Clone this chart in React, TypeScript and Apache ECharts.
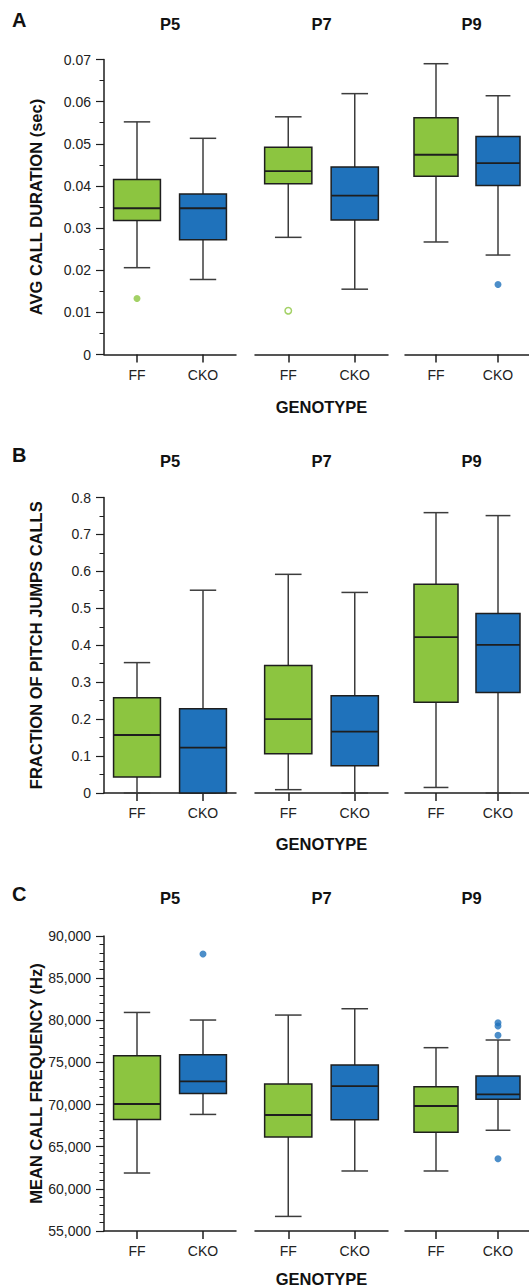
import React, { useEffect, useRef } from "react";
import * as echarts from "echarts";

// ---------- data ----------
const genotypes = ["FF", "CKO"];
const stages = ["P5", "P7", "P9"];
const panelLetters = ["A", "B", "C"];

// [min, Q1, median, Q3, max] per stage (P5, P7, P9)
const durationFF = [
  [0.0206, 0.0318, 0.0347, 0.0415, 0.0552],
  [0.0278, 0.0405, 0.0435, 0.0492, 0.0564],
  [0.0267, 0.0423, 0.0474, 0.0562, 0.069],
];
const durationCKO = [
  [0.0178, 0.0272, 0.0347, 0.0381, 0.0513],
  [0.0155, 0.0319, 0.0377, 0.0445, 0.0619],
  [0.0236, 0.0401, 0.0454, 0.0517, 0.0614],
];
// [stageIndex, genotypeIndex, value]
const durationOutliers = [
  [0, 0, 0.0133],
  [2, 1, 0.0166],
];
const durationOpenOutliers = [[1, 0, 0.0104]];

const pitchFF = [
  [0, 0.043, 0.157, 0.258, 0.353],
  [0.009, 0.106, 0.2, 0.345, 0.592],
  [0.015, 0.246, 0.422, 0.565, 0.759],
];
const pitchCKO = [
  [0, 0, 0.123, 0.228, 0.549],
  [0, 0.074, 0.166, 0.263, 0.543],
  [0, 0.272, 0.401, 0.486, 0.751],
];
const pitchOutliers: number[][] = [];
const pitchOpenOutliers: number[][] = [];

const freqFF = [
  [61880, 68240, 70065, 75795, 80930],
  [56730, 66150, 68760, 72440, 80620],
  [62120, 66710, 69830, 72120, 76750],
];
const freqCKO = [
  [68830, 71320, 72750, 75910, 80030],
  [62120, 68200, 72200, 74690, 81370],
  [66950, 70630, 71220, 73390, 77660],
];
const freqOutliers = [
  [0, 1, 87860],
  [2, 1, 79710],
  [2, 1, 79320],
  [2, 1, 78220],
  [2, 1, 63580],
];
const freqOpenOutliers: number[][] = [];

const yNames = [
  "AVG CALL DURATION (sec)",
  "FRACTION OF PITCH JUMPS CALLS",
  "MEAN CALL FREQUENCY (Hz)",
];
const yMins = [0, 0, 55000];
const yMaxs = [0.07, 0.8, 90000];
const yIntervals = [0.01, 0.1, 5000];
const yMinorSplits = [2, 2, 5];

// ---------- style ----------
const GREEN = "#8cc540";
const BLUE = "#1f72bb";
const DARK = "#1e1e1e";
const WHISKER = "#3c3c3c";
const FONT = "'Liberation Sans', Arial, Helvetica, sans-serif";

const gridLefts = [104, 255, 405];
const gridWidths = [132, 133, 133];
const gridTops = [59.5, 497.5, 936];
const gridHeights = [295, 295.5, 295];
const letterY = [20, 455, 894];
const stageTitleY = [24, 461, 898];
const genotypeY = [407, 844, 1279];

function buildOption() {
  const grids: any[] = [];
  const xAxes: any[] = [];
  const yAxes: any[] = [];
  const series: any[] = [];
  const graphics: any[] = [];

  const allFF = [durationFF, pitchFF, freqFF];
  const allCKO = [durationCKO, pitchCKO, freqCKO];
  const allOut = [durationOutliers, pitchOutliers, freqOutliers];
  const allOpen = [durationOpenOutliers, pitchOpenOutliers, freqOpenOutliers];

  for (let p = 0; p < 3; p++) {
    graphics.push({
      type: "text",
      x: 12,
      y: letterY[p],
      style: {
        text: panelLetters[p],
        font: `bold 20px ${FONT}`,
        fill: "#111",
        textVerticalAlign: "middle",
        verticalAlign: "middle",
      },
    });
    graphics.push({
      type: "text",
      x: gridLefts[1] + gridWidths[1] / 2,
      y: genotypeY[p],
      style: {
        text: "GENOTYPE",
        font: `bold 16.5px ${FONT}`,
        fill: "#111",
        textAlign: "center",
        align: "center",
        textVerticalAlign: "middle",
        verticalAlign: "middle",
      },
    });

    for (let s = 0; s < 3; s++) {
      const gi = p * 3 + s;
      grids.push({
        left: gridLefts[s],
        top: gridTops[p],
        width: gridWidths[s],
        height: gridHeights[p],
        containLabel: false,
      });
      graphics.push({
        type: "text",
        x: gridLefts[s] + gridWidths[s] / 2,
        y: stageTitleY[p],
        style: {
          text: stages[s],
          font: `bold 16.5px ${FONT}`,
          fill: "#111",
          textAlign: "center",
          align: "center",
          textVerticalAlign: "middle",
          verticalAlign: "middle",
        },
      });
      xAxes.push({
        type: "category",
        gridIndex: gi,
        data: genotypes,
        boundaryGap: true,
        axisLine: { show: true, lineStyle: { color: DARK, width: 1.5 } },
        axisTick: {
          show: true,
          alignWithLabel: true,
          length: 8,
          lineStyle: { color: DARK, width: 1.5 },
        },
        axisLabel: {
          fontSize: 14,
          color: "#222",
          fontFamily: FONT,
          margin: 13,
        },
        splitLine: { show: false },
      });
      const showY = s === 0;
      yAxes.push({
        type: "value",
        gridIndex: gi,
        min: yMins[p],
        max: yMaxs[p],
        interval: yIntervals[p],
        show: showY,
        name: showY ? yNames[p] : "",
        nameLocation: "middle",
        nameGap: 60,
        nameRotate: 90,
        nameTextStyle: {
          fontSize: 16.5,
          fontWeight: "bold",
          color: "#111",
          fontFamily: FONT,
        },
        axisLine: { show: true, lineStyle: { color: DARK, width: 1.5 } },
        axisTick: { show: true, length: 8, lineStyle: { color: DARK, width: 1.2 } },
        minorTick: {
          show: true,
          splitNumber: yMinorSplits[p],
          length: 4.5,
          lineStyle: { color: DARK, width: 1 },
        },
        axisLabel: {
          fontSize: 14,
          color: "#222",
          fontFamily: FONT,
          margin: 13,
          formatter: (v: number) =>
            p === 2 ? v.toLocaleString("en-US") : String(+v.toFixed(3)),
        },
        splitLine: { show: false },
        minorSplitLine: { show: false },
      });

      const boxData = [
        [0, ...allFF[p][s]],
        [1, ...allCKO[p][s]],
      ];
      series.push({
        type: "custom",
        xAxisIndex: gi,
        yAxisIndex: gi,
        data: boxData,
        encode: { x: 0, y: [1, 2, 3, 4, 5] },
        clip: false,
        renderItem: (params: any, api: any) => {
          const g = api.value(0);
          const lo = api.coord([g, api.value(1)]);
          const q1 = api.coord([g, api.value(2)]);
          const med = api.coord([g, api.value(3)]);
          const q3 = api.coord([g, api.value(4)]);
          const hi = api.coord([g, api.value(5)]);
          const band = api.size([1, 0])[0];
          const bw = band * 0.71;
          const cw = band * 0.4;
          const cx = lo[0];
          const fill = g === 0 ? GREEN : BLUE;
          const wl = { stroke: WHISKER, lineWidth: 1.5 };
          return {
            type: "group",
            children: [
              { type: "line", shape: { x1: cx, y1: hi[1], x2: cx, y2: q3[1] }, style: wl },
              { type: "line", shape: { x1: cx, y1: q1[1], x2: cx, y2: lo[1] }, style: wl },
              { type: "line", shape: { x1: cx - cw / 2, y1: hi[1], x2: cx + cw / 2, y2: hi[1] }, style: wl },
              { type: "line", shape: { x1: cx - cw / 2, y1: lo[1], x2: cx + cw / 2, y2: lo[1] }, style: wl },
              {
                type: "rect",
                shape: { x: cx - bw / 2, y: q3[1], width: bw, height: q1[1] - q3[1] },
                style: { fill, stroke: DARK, lineWidth: 1.5 },
              },
              {
                type: "line",
                shape: { x1: cx - bw / 2, y1: med[1], x2: cx + bw / 2, y2: med[1] },
                style: { stroke: DARK, lineWidth: 1.8 },
              },
            ],
          };
        },
      });

      const filled = allOut[p].filter((o) => o[0] === s).map((o) => [o[1], o[2]]);
      if (filled.length) {
        series.push({
          type: "scatter",
          xAxisIndex: gi,
          yAxisIndex: gi,
          symbolSize: 7,
          data: filled.map((d) => ({
            value: d,
            itemStyle: { color: d[0] === 0 ? GREEN : BLUE },
          })),
        });
      }
      const open = allOpen[p].filter((o) => o[0] === s).map((o) => [o[1], o[2]]);
      if (open.length) {
        series.push({
          type: "scatter",
          xAxisIndex: gi,
          yAxisIndex: gi,
          symbolSize: 6.5,
          data: open.map((d) => ({
            value: d,
            itemStyle: {
              color: "#ffffff",
              borderColor: d[0] === 0 ? GREEN : BLUE,
              borderWidth: 1.5,
            },
          })),
        });
      }
    }
  }

  return {
    animation: false,
    backgroundColor: "#ffffff",
    textStyle: { fontFamily: FONT },
    grid: grids,
    xAxis: xAxes,
    yAxis: yAxes,
    series,
    graphic: graphics,
  };
}

export default function App() {
  const ref = useRef<HTMLDivElement>(null);
  useEffect(() => {
    if (!ref.current) return;
    const chart = echarts.init(ref.current, undefined, { renderer: "svg" });
    chart.setOption(buildOption() as any);
    return () => chart.dispose();
  }, []);
  return (
    <div
      ref={ref}
      style={{ position: "absolute", left: 0, top: 0, width: 529, height: 1287 }}
    />
  );
}
